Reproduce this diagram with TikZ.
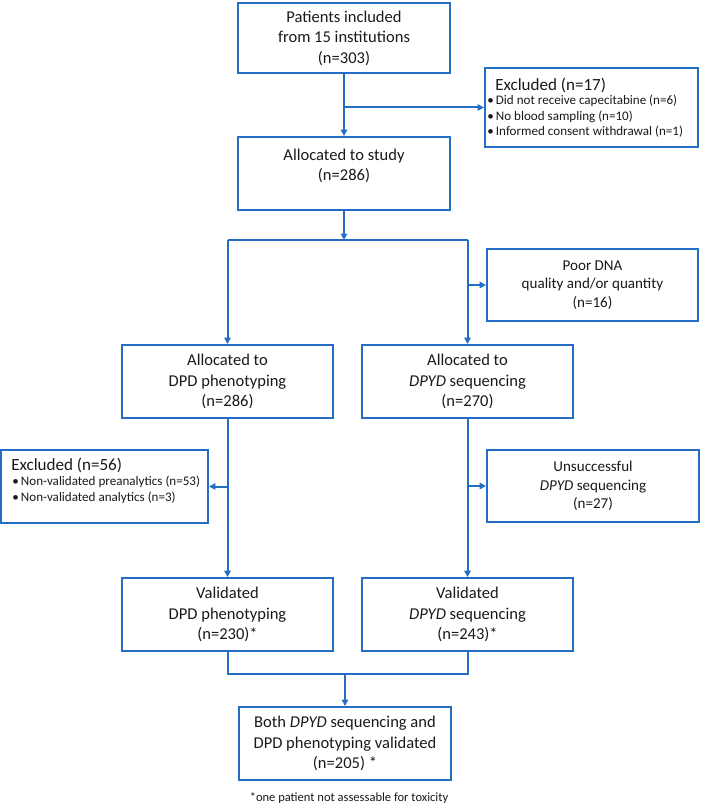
\documentclass[tikz,border=0pt]{standalone}
\usepackage{fontspec}
\setmainfont{Carlito}
\usetikzlibrary{arrows.meta}
\definecolor{fblue}{RGB}{35,110,196}
\definecolor{ftext}{RGB}{25,25,25}
\begin{document}
\begin{tikzpicture}[x=0.75pt,y=-0.75pt,
  box/.style={draw=fblue,line width=1.5pt,rectangle,inner sep=0pt,
    minimum width=#1*0.75pt},
  box/.default=212,
  mtext/.style={align=center,text=ftext,font=\fontsize{12.4}{15.4}\selectfont},
  stext/.style={align=center,text=ftext,font=\fontsize{11.3}{14}\selectfont},
  ltext/.style={align=left,text=ftext,anchor=north west,inner sep=0pt,font=\fontsize{9.8}{11.6}\selectfont},
  ttext/.style={text=ftext,anchor=west,inner sep=0pt,font=\fontsize{12.8}{14}\selectfont},
  conn/.style={draw=fblue,line width=1.5pt},
  arr/.style={conn,-{Triangle[length=4.8pt,width=4.8pt]}},
]
\useasboundingbox (0,0) rectangle (700,806);
\node[box,minimum height=52.5pt,mtext] (b1) at (344,38) {Patients included\\from 15 institutions\\(n=303)};
\node[box,minimum height=54.75pt] (b2) at (344,173.5) {};
\node[mtext] (b2t) at (344,166) {Allocated to study\\(n=286)};
\node[box=213,minimum height=59.25pt] (ex17) at (591.5,107.5) {};
\node[ttext] (ex17h) at (495,85) {Excluded (n=17)};
\node[ltext] (ex17t) at (487,95) {•\,Did not receive capecitabine (n=6)\\
  •\,No blood sampling (n=10)\\
  •\,Informed consent withdrawal (n=1)};
\coordinate (split) at (344,240);
\node[box=211,minimum height=54pt,stext] (poor) at (592.5,285) {Poor DNA\\quality and/or quantity\\(n=16)};
\node[box=211,minimum height=54.75pt,mtext] (dpd) at (227.5,381.5) {Allocated to\\DPD phenotyping\\(n=286)};
\node[box=211,minimum height=54.75pt,mtext] (dpyd) at (467.5,381.5) {Allocated to\\\textit{DPYD} sequencing\\(n=270)};
\node[box=207,minimum height=54.75pt] (ex56) at (104.5,486.5) {};
\node[ttext] (ex56h) at (11,465) {Excluded (n=56)};
\node[ltext] (ex56t) at (12,476) {•\,Non-validated preanalytics (n=53)\\
  •\,Non-validated analytics (n=3)};
\node[box=212,minimum height=54pt,stext] (uns) at (593,486) {Unsuccessful\\\textit{DPYD} sequencing\\(n=27)};
\node[box=211,minimum height=54.75pt,mtext] (vdpd) at (227.5,614.5) {Validated\\DPD phenotyping\\(n=230)*};
\node[box=211,minimum height=54.75pt,mtext] (vdpyd) at (467.5,614.5) {Validated\\\textit{DPYD} sequencing\\(n=243)*};
\coordinate (join) at (345,674);
\node[box=212,minimum height=54.75pt,mtext] (fin) at (345,743.5) {Both \textit{DPYD} sequencing and\\DPD phenotyping validated\\(n=205) *};
\node[text=ftext,font=\fontsize{9.4}{11}\selectfont,inner sep=0pt] (foot) at (349,798) {*one patient not assessable for toxicity};
% connectors
\draw[arr] (b1.south) -- (b2.north);
\draw[arr] (b1.south |- ex17.west) -- (ex17.west);
\draw[arr] (b2.south) -- (split);
\draw[conn] (dpd.north |- split) -- (dpyd.north |- split);
\draw[arr] (dpd.north |- split) -- (dpd.north);
\draw[arr] (dpyd.north |- split) -- (dpyd.north);
\draw[arr] (dpyd.north |- poor.west) -- (poor.west);
\draw[arr] (dpd.south) -- (vdpd.north);
\draw[arr] (dpd.south |- ex56.east) -- (ex56.east);
\draw[arr] (dpyd.south) -- (vdpyd.north);
\draw[arr] (dpyd.south |- uns.west) -- (uns.west);
\draw[conn] (vdpd.south) -- (vdpd.south |- join) -- (vdpyd.south |- join) -- (vdpyd.south);
\draw[arr] (fin.north |- join) -- (fin.north);
\end{tikzpicture}
\end{document}
